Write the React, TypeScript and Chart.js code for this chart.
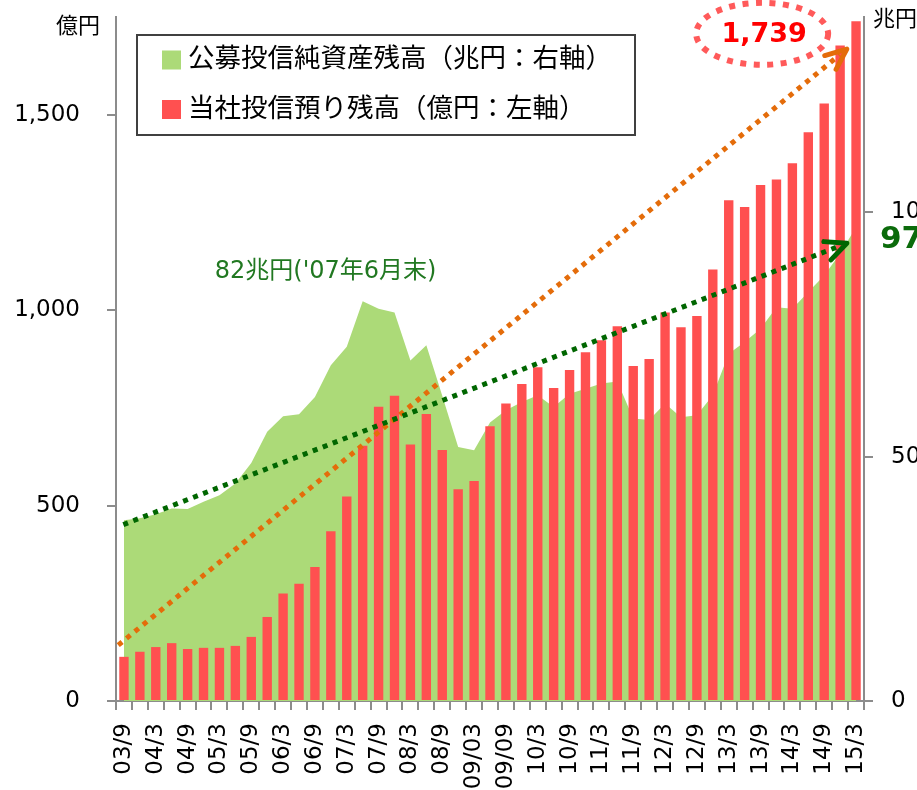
import React, { useEffect, useRef } from 'react';
import { Chart, registerables } from 'chart.js';

Chart.register(...registerables);

// Quarter-end categories (03/9 .. 15/3)
const CATEGORIES = [
  '03/9', '03/12', '04/3', '04/6', '04/9', '04/12', '05/3', '05/6', '05/9', '05/12',
  '06/3', '06/6', '06/9', '06/12', '07/3', '07/6', '07/9', '07/12', '08/3', '08/6',
  '08/9', '08/12', '09/03', '09/06', '09/09', '09/12', '10/3', '10/6', '10/9', '10/12',
  '11/3', '11/6', '11/9', '11/12', '12/3', '12/6', '12/9', '12/12', '13/3', '13/6',
  '13/9', '13/12', '14/3', '14/6', '14/9', '14/12', '15/3',
];

// 公募投信純資産残高 (兆円, right axis)
const FUND_NET_ASSETS = [
  37.0, 37.4, 38.2, 39.4, 39.3, 40.8, 42.1, 44.5, 48.7, 55.1,
  58.3, 58.7, 62.2, 68.7, 72.5, 81.8, 80.3, 79.5, 69.7, 72.8,
  62.5, 52.0, 51.3, 57.0, 59.5, 61.2, 62.6, 60.2, 62.9, 63.9,
  65.0, 65.4, 57.8, 57.5, 60.9, 58.1, 58.5, 62.6, 71.1, 73.5,
  76.2, 80.6, 80.3, 83.7, 87.1, 91.6, 97.0,
];

// 当社投信預り残高 (億円, left axis)
const OUR_BALANCE = [
  113, 126, 138, 148, 133, 136, 136, 141, 164, 215,
  275, 300, 343, 434, 523, 653, 753, 781, 656, 734,
  642, 542, 563, 703, 761, 811, 854, 801, 847, 892,
  923, 959, 857, 875, 994, 956, 985, 1104, 1281, 1264,
  1320, 1334, 1376, 1455, 1529, 1677, 1739,
];

const LEFT_TICKS = [0, 500, 1000, 1500];
const LEFT_MAX = 1750;
const RIGHT_TICKS = [0, 50, 100];
const RIGHT_MAX = 140;

const LEGEND_LABELS = ['公募投信純資産残高（兆円：右軸）', '当社投信預り残高（億円：左軸）'];
const LEFT_UNIT = '億円';
const RIGHT_UNIT = '兆円';
const PEAK_NOTE = "82兆円('07年6月末)";
const LAST_BALANCE_NOTE = '1,739';
const LAST_FUND_NOTE = '97兆円';

const GREEN = '#ACDA78';
const RED = '#FF5050';
const ORANGE = '#E46C0A';
const DARK_GREEN = '#006600';
const AXIS = '#8C8C8C';
const FONT = '"DejaVu Sans", "Noto Sans CJK JP", sans-serif';
const CJK = '"Noto Sans CJK JP", sans-serif';

function dottedArrow(
  ctx: CanvasRenderingContext2D,
  x0: number, y0: number, x1: number, y1: number,
  color: string, armLen: number, spread: number,
) {
  const ang = Math.atan2(y0 - y1, x0 - x1);
  ctx.save();
  ctx.strokeStyle = color;
  ctx.lineWidth = 5;
  ctx.lineCap = 'butt';
  ctx.setLineDash([5, 5.7]);
  ctx.beginPath();
  ctx.moveTo(x0, y0);
  ctx.lineTo(x1 + Math.cos(ang) * 9, y1 + Math.sin(ang) * 9);
  ctx.stroke();
  ctx.setLineDash([]);
  ctx.lineCap = 'round';
  ctx.lineJoin = 'round';
  ctx.beginPath();
  ctx.moveTo(x1 + armLen * Math.cos(ang + spread), y1 + armLen * Math.sin(ang + spread));
  ctx.lineTo(x1, y1);
  ctx.lineTo(x1 + armLen * Math.cos(ang - spread), y1 + armLen * Math.sin(ang - spread));
  ctx.stroke();
  ctx.restore();
}

const overlayPlugin = {
  id: 'overlay',
  afterDatasetsDraw(chart: any) {
    const ctx: CanvasRenderingContext2D = chart.ctx;
    const xs = chart.scales.x;
    const yl = chart.scales.y;
    const yr = chart.scales.y2;
    dottedArrow(ctx, xs.getPixelForValue(-0.36), yl.getPixelForValue(143),
      xs.getPixelForValue(45.42), yl.getPixelForValue(1668), ORANGE, 23, 0.4);
    dottedArrow(ctx, xs.getPixelForValue(-0.04), yr.getPixelForValue(36.1),
      xs.getPixelForValue(45.42), yr.getPixelForValue(93.7), DARK_GREEN, 23, 0.44);
  },
  afterDraw(chart: any) {
    const ctx: CanvasRenderingContext2D = chart.ctx;
    const area = chart.chartArea;
    const xs = chart.scales.x;
    const yl = chart.scales.y;
    const yr = chart.scales.y2;
    ctx.save();

    // legend box
    const bx = area.left + 21, by = area.top + 18, bw = 498, bh = 100;
    ctx.fillStyle = '#fff';
    ctx.fillRect(bx, by, bw, bh);
    ctx.strokeStyle = '#404040';
    ctx.lineWidth = 2;
    ctx.strokeRect(bx, by, bw, bh);
    const colors = [GREEN, RED];
    ctx.font = `26.5px ${CJK}`;
    ctx.textBaseline = 'middle';
    ctx.textAlign = 'left';
    LEGEND_LABELS.forEach((t, i) => {
      const cy = by + 25 + i * 49.5;
      ctx.fillStyle = colors[i];
      ctx.fillRect(bx + 25, cy - 9.5, 19, 19);
      ctx.fillStyle = '#000';
      ctx.fillText(t, bx + 51, cy - 3);
    });

    // unit labels
    ctx.fillStyle = '#000';
    ctx.font = `22px ${CJK}`;
    ctx.textAlign = 'right';
    ctx.fillText(LEFT_UNIT, area.left - 16, area.top + 8);
    ctx.textAlign = 'left';
    ctx.fillText(RIGHT_UNIT, area.right + 9, area.top + 1);

    // peak note
    ctx.fillStyle = '#217821';
    ctx.font = `24px ${FONT}`;
    ctx.textAlign = 'center';
    ctx.fillText(PEAK_NOTE, xs.getPixelForValue(12.67), yr.getPixelForValue(87.8));

    // 1,739 callout
    const ex = xs.getPixelForValue(40.1), ey = yl.getPixelForValue(1707);
    ctx.strokeStyle = '#FF5A5A';
    ctx.lineWidth = 6;
    ctx.setLineDash([6, 7.5]);
    ctx.beginPath();
    ctx.ellipse(ex, ey, 66, 31, 0, 0, Math.PI * 2);
    ctx.stroke();
    ctx.setLineDash([]);
    ctx.fillStyle = '#FF0000';
    ctx.font = `bold 27px ${FONT}`;
    ctx.fillText(LAST_BALANCE_NOTE, ex + 2, ey + 1);

    // 97兆円
    ctx.fillStyle = '#0B6B0B';
    ctx.font = `bold 31px ${FONT}`;
    ctx.textAlign = 'left';
    ctx.fillText(LAST_FUND_NOTE, area.right + 16, yr.getPixelForValue(94.3));

    ctx.restore();
  },
};

export default function App() {
  const ref = useRef<HTMLCanvasElement | null>(null);
  useEffect(() => {
    if (!ref.current) return;
    const tickFont = { family: FONT, size: 23 };
    const gridOpts = { drawOnChartArea: false, drawTicks: true, tickLength: 9, color: AXIS, lineWidth: 2 };
    const chart = new Chart(ref.current, {
      type: 'bar',
      data: {
        labels: CATEGORIES,
        datasets: [
          {
            type: 'bar',
            label: LEGEND_LABELS[1],
            data: OUR_BALANCE,
            backgroundColor: RED,
            borderWidth: 0,
            barPercentage: 0.59,
            categoryPercentage: 1,
            yAxisID: 'y',
            order: 1,
          } as any,
          {
            type: 'line',
            label: LEGEND_LABELS[0],
            data: FUND_NET_ASSETS,
            backgroundColor: GREEN,
            borderWidth: 0,
            borderColor: 'rgba(0,0,0,0)',
            pointRadius: 0,
            fill: 'origin',
            tension: 0,
            yAxisID: 'y2',
            order: 2,
          } as any,
        ],
      },
      options: {
        responsive: false,
        animation: false,
        devicePixelRatio: 1,
        layout: { padding: { top: 17, left: 0, right: 0, bottom: 0 } },
        plugins: { legend: { display: false }, tooltip: { enabled: false } },
        scales: {
          x: {
            type: 'category',
            offset: true,
            grid: { ...gridOpts, offset: true },
            border: { display: true, color: AXIS, width: 2 },
            ticks: {
              autoSkip: false,
              maxRotation: 90,
              minRotation: 90,
              padding: 13,
              color: '#000',
              font: tickFont,
              callback: (_v: any, i: number) => (i % 2 === 0 ? CATEGORIES[i] : ''),
            },
            afterFit: (s: any) => { s.height = 89; s.paddingLeft = 0; s.paddingRight = 0; s.paddingTop = 0; s.paddingBottom = 0; },
          },
          y: {
            position: 'left',
            min: 0,
            max: LEFT_MAX,
            grid: gridOpts,
            border: { display: true, color: AXIS, width: 2 },
            ticks: {
              padding: 27,
              color: '#000',
              font: tickFont,
              callback: (v: any) => Number(v).toLocaleString('en-US'),
            },
            afterBuildTicks: (s: any) => { s.ticks = LEFT_TICKS.map((value) => ({ value })); },
            afterFit: (s: any) => { s.width = 116; s.paddingTop = 0; s.paddingBottom = 0; s.paddingLeft = 0; s.paddingRight = 0; },
          },
          y2: {
            position: 'right',
            min: 0,
            max: RIGHT_MAX,
            grid: gridOpts,
            border: { display: true, color: AXIS, width: 2 },
            ticks: {
              padding: 18,
              color: '#000',
              font: tickFont,
            },
            afterBuildTicks: (s: any) => { s.ticks = RIGHT_TICKS.map((value) => ({ value })); },
            afterFit: (s: any) => { s.width = 96; s.paddingTop = 0; s.paddingBottom = 0; s.paddingLeft = 0; s.paddingRight = 0; },
          },
        },
      } as any,
      plugins: [overlayPlugin],
    });
    return () => chart.destroy();
  }, []);

  return (
    <div style={{ position: 'fixed', left: 0, top: 0, width: 917, height: 790, overflow: 'hidden', background: '#fff' }}>
      <canvas ref={ref} width={960} height={790} style={{ display: 'block', width: 960, height: 790 }} />
    </div>
  );
}
